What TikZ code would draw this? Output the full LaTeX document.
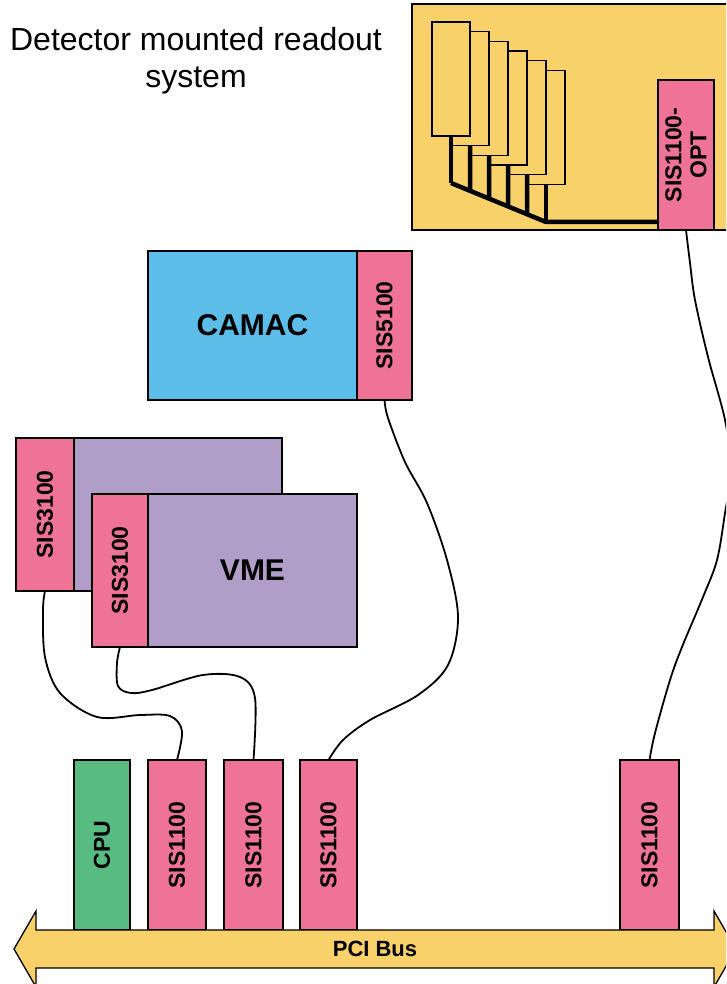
\documentclass[tikz,border=0pt]{standalone}
\usepackage{fontspec}
\setmainfont{Liberation Sans}
\usetikzlibrary{calc}
\definecolor{cyellow}{RGB}{249,209,107}
\definecolor{cpink}{RGB}{238,115,150}
\definecolor{cblue}{RGB}{91,189,232}
\definecolor{cpurple}{RGB}{176,158,200}
\definecolor{cgreen}{RGB}{88,188,130}
\begin{document}
\begin{tikzpicture}[x=1pt,y=-1pt,
  box/.style={draw, line width=1.3pt, inner sep=0pt, outer sep=0pt, anchor=north west},
  lbl/.style={font=\bfseries\fontsize{23}{25}\selectfont, rotate=90, align=center},
  big/.style={font=\bfseries\fontsize{30}{34}\selectfont},
  cable/.style={line width=1.8pt, line join=round, line cap=round},
  thickbus/.style={line width=4.5pt}]
\useasboundingbox (0,0) rectangle (726,984);
\begin{scope}
\clip (0,0) rectangle (726,984);

% title
\node[font=\fontsize{32}{37}\selectfont, align=center] (title) at (196,61) {Detector mounted readout\\system};

% detector mounted readout system
\node[box, fill=cyellow, minimum width=340pt, minimum height=226pt] (det) at (412,4) {};
\foreach \k in {5,4,...,0}
  \node[box, fill=cyellow, minimum width=38pt, minimum height=114pt] (mod\k) at ({432+19*\k},{22+9.7*\k}) {};
\coordinate (d0) at (451,183);
\coordinate (d5) at (546,222);
\node[box, fill=cpink, minimum width=56pt, minimum height=150pt] (opt) at (658,80) {};
\foreach \k in {0,...,5}{
  \pgfmathsetmacro{\t}{\k/5}
  \draw[thickbus] (mod\k.south) -- ($(d0)!\t!(d5)$);
}
\draw[thickbus, line join=round] (d0) -- (d5) -- (d5 -| opt.west);
\node[box, fill=cpink, minimum width=56pt, minimum height=150pt] (opt2) at (658,80) {};
\node[lbl] (optl) at (opt2.center) {SIS1100-\\OPT};

% CAMAC
\node[box, fill=cblue, minimum width=209pt, minimum height=149pt] (camac) at (148,251) {};
\node[big] (camacl) at (camac.center) {CAMAC};
\node[box, fill=cpink, minimum width=55pt, minimum height=149pt] (s51) at (357,251) {};
\node[lbl] (s51l) at (s51.center) {SIS5100};

% VME back
\node[box, fill=cpurple, minimum width=208pt, minimum height=153pt] (vmea) at (74,438) {};
\node[box, fill=cpink, minimum width=58pt, minimum height=153pt] (s31a) at (16,438) {};
\node[lbl] (s31al) at (s31a.center) {SIS3100};
% VME front
\node[box, fill=cpurple, minimum width=209pt, minimum height=153pt] (vmeb) at (148,494) {};
\node[big] (vmel) at (vmeb.center) {VME};
\node[box, fill=cpink, minimum width=56pt, minimum height=153pt] (s31b) at (92,494) {};
\node[lbl] (s31bl) at (s31b.center) {SIS3100};

% PCI cards
\node[box, fill=cgreen, minimum width=56pt, minimum height=170pt] (cpu) at (74,760) {};
\node[lbl] (cpul) at (cpu.center) {CPU};
\node[box, fill=cpink, minimum width=58pt, minimum height=170pt] (c1) at (148,760) {};
\node[lbl] (c1l) at (c1.center) {SIS1100};
\node[box, fill=cpink, minimum width=59pt, minimum height=170pt] (c2) at (224,760) {};
\node[lbl] (c2l) at (c2.center) {SIS1100};
\node[box, fill=cpink, minimum width=57pt, minimum height=170pt] (c3) at (300,760) {};
\node[lbl] (c3l) at (c3.center) {SIS1100};
\node[box, fill=cpink, minimum width=59pt, minimum height=170pt] (c4) at (620,760) {};
\node[lbl] (c4l) at (c4.center) {SIS1100};

% PCI bus arrow
\draw[fill=cyellow, line width=1.3pt, line join=miter]
  (14,949) -- (36,911) -- (36,930) -- (714,930) -- (714,911) -- (736,949)
  -- (714,987) -- (714,968) -- (36,968) -- (36,987) -- cycle;
\node[font=\bfseries\fontsize{22}{25}\selectfont] (pci) at (375,949) {PCI Bus};

% cables
\draw[cable] plot[smooth, tension=0.55] coordinates {(s31a.south) (43,610) (45,657) (60,693) (97,717) (140,715) (170,716) (182,731) (c1.north)};
\draw[cable] plot[smooth, tension=0.55] coordinates {(s31b.south) (117,663) (118,686) (131,693) (152,690) (203,675) (240,677) (255,698) (c2.north)};
\draw[cable] plot[smooth, tension=0.55] coordinates {(s51.south) (388,418) (405,462) (427,503) (447,560) (458,617) (448,665) (418,695) (370,720) (343,740) (c3.north)};
\draw[cable] plot[smooth, tension=0.55] coordinates {(opt2.south) (690,263) (695,300) (708,357) (725,420) (731,470) (725,513) (717,560) (703,597) (682,647) (670,680) (655,733) (c4.north)};
\end{scope}
\end{tikzpicture}
\end{document}
